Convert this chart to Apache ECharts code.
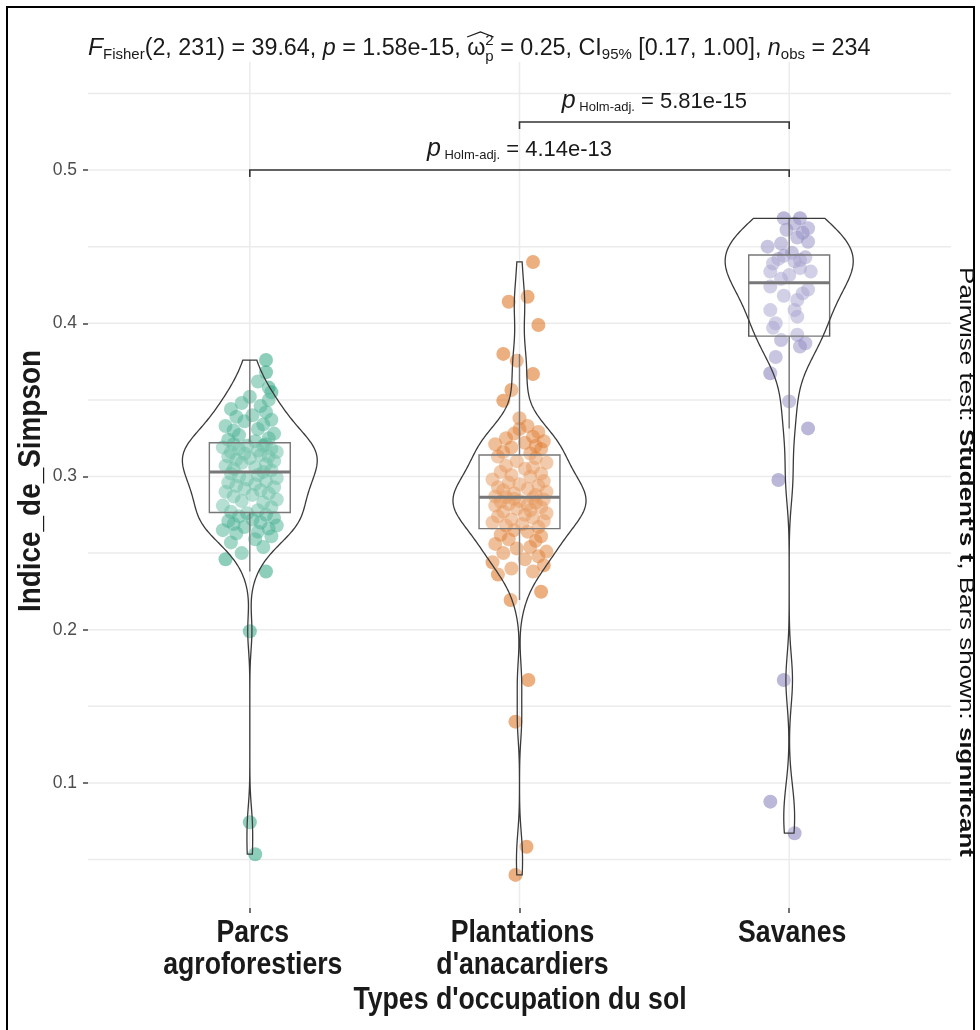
<!DOCTYPE html>
<html><head><meta charset="utf-8">
<script src="https://cdn.jsdelivr.net/npm/echarts@6/dist/echarts.min.js"></script>
<style>html,body{margin:0;padding:0;background:#fff}#c{width:980px;height:1030px}</style>
</head><body><div id="c"></div>
<script>
// ---------------- DATA ----------------
const categories = ['Parcs\nagroforestiers', "Plantations\nd'anacardiers", 'Savanes'];
const xTitle = "Types d'occupation du sol";
const yTitle = 'Indice_de_Simpson';

const parcsValues = [0.0535, 0.0744, 0.199,
  0.238, 0.246, 0.250, 0.254, 0.257, 0.259, 0.261, 0.263, 0.264, 0.265, 0.266, 0.267, 0.268, 0.269, 0.270, 0.271, 0.272, 0.273, 0.274, 0.275, 0.276,
  0.277, 0.278, 0.280, 0.281, 0.283, 0.284, 0.285, 0.287, 0.288, 0.289, 0.290, 0.291, 0.292, 0.293, 0.294, 0.295, 0.296, 0.297, 0.298, 0.299, 0.300, 0.301, 0.302, 0.303,
  0.304, 0.305, 0.306, 0.307, 0.308, 0.309, 0.310, 0.311, 0.312, 0.313, 0.313, 0.314, 0.315, 0.316, 0.316, 0.317, 0.318, 0.318, 0.319, 0.320, 0.320, 0.321, 0.321,
  0.323, 0.324, 0.325, 0.327, 0.328, 0.330, 0.331, 0.333, 0.334, 0.336, 0.337, 0.339, 0.340, 0.342, 0.344, 0.346, 0.348, 0.350, 0.352, 0.355, 0.358, 0.362, 0.368, 0.376];
const parcsJitter = [0.02, 0.00, 0.00,
  0.06, -0.09, -0.03, 0.05, -0.07, 0.02, 0.08, -0.05, 0.03, -0.10, 0.07, -0.02, 0.10, -0.06, 0.04, -0.08, 0.01, 0.09, -0.04, 0.06, -0.01,
  -0.07, 0.03, 0.08, -0.10, 0.05, -0.03, 0.10, -0.06, 0.01, 0.07, -0.09, 0.04, -0.02, 0.09, -0.05, 0.02, -0.08, 0.06, -0.01, 0.10, -0.04, 0.03, -0.07, 0.05,
  0.08, -0.06, 0.02, -0.09, 0.06, -0.03, 0.09, -0.05, 0.00, 0.07, -0.08, 0.04, -0.02, 0.10, -0.07, 0.03, -0.04, 0.08, -0.10, 0.05, -0.01, 0.06, -0.06,
  0.02, -0.08, 0.07, -0.04, 0.09, -0.06, 0.03, -0.09, 0.05, -0.02, 0.08, -0.05, 0.01, 0.06, -0.07, 0.04, -0.03, 0.07, 0.00, 0.08, 0.07, 0.03, 0.06, 0.06];

const plantValues = [0.040, 0.0584, 0.140, 0.1672, 0.2194, 0.2248,
  0.236, 0.238, 0.240, 0.242, 0.244, 0.246, 0.248, 0.250, 0.251, 0.253, 0.254, 0.256, 0.258, 0.259, 0.261, 0.262, 0.264, 0.265,
  0.267, 0.268, 0.269, 0.270, 0.271, 0.272, 0.273, 0.274, 0.275, 0.276, 0.277, 0.278, 0.279, 0.280, 0.281, 0.2815, 0.282, 0.283, 0.2835, 0.284, 0.285, 0.2855, 0.286, 0.2865,
  0.287, 0.288, 0.289, 0.290, 0.291, 0.292, 0.293, 0.294, 0.295, 0.296, 0.297, 0.298, 0.300, 0.301, 0.302, 0.303, 0.305, 0.306, 0.307, 0.309, 0.310, 0.312, 0.313,
  0.315, 0.316, 0.318, 0.319, 0.320, 0.321, 0.322, 0.323, 0.325, 0.326, 0.328, 0.329, 0.331, 0.333,
  0.338, 0.3495, 0.3564, 0.3669, 0.3756, 0.380, 0.3989, 0.414, 0.4173, 0.440];
const plantJitter = [-0.015, 0.026, -0.015, 0.033, -0.033, 0.08,
  -0.08, 0.05, -0.03, 0.09, -0.10, 0.02, 0.07, -0.06, 0.10, -0.01, 0.04, -0.09, 0.06, -0.04, 0.08, -0.07, 0.03, -0.02,
  0.07, -0.05, 0.01, -0.10, 0.09, -0.03, 0.05, -0.08, 0.02, 0.10, -0.06, 0.04, -0.01, 0.08, -0.09, 0.03, -0.04, 0.06, -0.07, 0.00, 0.09, -0.02, 0.05, -0.05,
  -0.09, 0.06, -0.02, 0.10, -0.06, 0.03, -0.08, 0.07, 0.00, -0.04, 0.09, -0.10, 0.04, -0.03, 0.08, -0.07, 0.02, 0.05, -0.05, 0.10, -0.01, 0.06, -0.08,
  0.04, -0.06, 0.08, -0.03, 0.06, -0.09, 0.02, 0.09, -0.05, 0.05, -0.02, 0.07, 0.00, 0.03,
  0.00, -0.06, -0.03, 0.05, -0.01, -0.06, 0.07, -0.04, 0.03, 0.05];

const savValues = [0.0672, 0.0878, 0.1672, 0.2977, 0.3314, 0.349, 0.3674, 0.378, 0.3848, 0.387, 0.389, 0.3925,
  0.397, 0.400, 0.4043, 0.4086, 0.4086, 0.4152, 0.418, 0.4195, 0.422, 0.424, 0.429,
  0.4315, 0.4337, 0.4337, 0.436, 0.439, 0.4405, 0.4413, 0.442, 0.443, 0.444, 0.446,
  0.450, 0.452, 0.4532, 0.456, 0.459, 0.461, 0.462, 0.465, 0.4685, 0.4685];
const savJitter = [0.02, -0.07, -0.02, -0.04, 0.07, 0.00, -0.07, -0.05, 0.04, 0.06, -0.03, 0.03,
  -0.06, -0.05, 0.03, 0.02, -0.07, 0.03, -0.02, 0.05, 0.07, -0.07, -0.03,
  0.00, -0.07, 0.08, 0.04, -0.06, 0.02, 0.04, -0.04, 0.06, -0.02, 0.01,
  -0.08, -0.03, 0.07, 0.03, 0.05, -0.01, 0.07, 0.02, -0.02, 0.04];

const yTickValues = [0.1, 0.2, 0.3, 0.4, 0.5];
const yTickLabels = ['0.1', '0.2', '0.3', '0.4', '0.5'];
const yGridValues = [0.05, 0.1, 0.15, 0.2, 0.25, 0.3, 0.35, 0.4, 0.45, 0.5, 0.55];

const bracketPairs = [[1, 3], [2, 3]];
const bracketLevels = [0.5, 0.5313];
const bracketPValues = ['4.14e-13', '5.81e-15'];

const rightNote = [['Pairwise test: ', false], ["Student's t", true], [', Bars shown: ', false], ['significant', true]];

// ---------------- STYLE ----------------
const groupColors = ['#1B9E77', '#D95F02', '#7570B3'];
const FF = '"Liberation Sans", Arial, sans-serif';
const Y_MIN = 0.0184, Y_MAX = 0.5705;
const VIOLIN_HALF = 0.25, BOX_HALF = 0.15;
const NARROW = 0.86;

// ---------------- HELPERS ----------------
const groups = [
  {values: parcsValues, jitter: parcsJitter},
  {values: plantValues, jitter: plantJitter},
  {values: savValues, jitter: savJitter}
];
function computeStats(vals) {
  const s = vals.slice().sort((a, b) => a - b);
  const n = s.length;
  const q = p => { const h = (n - 1) * p, lo = Math.floor(h), hi = Math.min(lo + 1, n - 1); return s[lo] + (h - lo) * (s[hi] - s[lo]); };
  const q1 = q(0.25), med = q(0.5), q3 = q(0.75), iqr = q3 - q1;
  const lo = s.find(v => v >= q1 - 1.5 * iqr);
  const hi = s.slice().reverse().find(v => v <= q3 + 1.5 * iqr);
  const mean = s.reduce((a, b) => a + b, 0) / n;
  const sd = Math.sqrt(s.reduce((a, b) => a + (b - mean) * (b - mean), 0) / (n - 1));
  const bw = 0.9 * Math.min(sd, iqr / 1.34) * Math.pow(n, -0.2);
  const dens = [];
  const N = 512;
  for (let k = 0; k < N; k++) {
    const y = s[0] + (s[n - 1] - s[0]) * k / (N - 1);
    let d = 0;
    for (const v of s) { const z = (y - v) / bw; d += Math.exp(-0.5 * z * z); }
    dens.push([y, d / (n * bw * Math.sqrt(2 * Math.PI))]);
  }
  return {q1, med, q3, lo, hi, dens};
}
const groupStats = groups.map(g => computeStats(g.values));
const maxDens = Math.max(...groupStats.map(st => Math.max(...st.dens.map(d => d[1]))));

const mctx = document.createElement('canvas').getContext('2d');
function pfont(p) { return (p.it ? 'italic ' : '') + (p.b ? 'bold ' : '') + p.size + 'px ' + FF; }
function tw(p) { mctx.font = pfont(p); return mctx.measureText(p.t).width; }
function layoutPieces(pieces, x0, baseline, color) {
  let x = x0, lastX = x0, lastW = 0;
  const els = [], pos = [];
  pieces.forEach(p => {
    const w = tw(p);
    let px;
    if (p.sameX) { px = lastX; x = lastX + Math.max(lastW, w); }
    else { px = x; lastX = x; lastW = w; x += w; }
    pos.push([px, px + w]);
    els.push({type: 'text', x: px, y: baseline + (p.dy || 0) - 0.33 * p.size, silent: true,
      style: {text: p.t, fontSize: p.size, fontFamily: FF, fontStyle: p.it ? 'italic' : 'normal',
        fontWeight: p.b ? 'bold' : 'normal', fill: color, align: 'left', verticalAlign: 'middle'}});
  });
  return {els, width: x - x0, pos};
}

// ---------------- TITLE ----------------
const titlePieces = [
  {t: 'F', size: 24.5, it: true},
  {t: 'Fisher', size: 15, dy: 4},
  {t: '(2, 231) = 39.64, ', size: 23.3},
  {t: 'p', size: 23.3, it: true},
  {t: ' = 1.58e-15, ', size: 23.3},
  {t: 'ω', size: 23.3},
  {t: '2', size: 15, dy: -10},
  {t: 'p', size: 15, dy: 6, sameX: true},
  {t: ' = 0.25, CI', size: 23.3},
  {t: '95%', size: 15, dy: 4},
  {t: ' [0.17, 1.00], ', size: 23.3},
  {t: 'n', size: 23.3, it: true},
  {t: 'obs', size: 15, dy: 4},
  {t: ' = 234', size: 23.3}
];
const titleLayout = layoutPieces(titlePieces, 88, 56, '#1a1a1a');
const hatL = titleLayout.pos[5][0], hatR = titleLayout.pos[7][1];
const titleHat = {type: 'polyline', silent: true,
  shape: {points: [[hatL, 37], [(hatL + hatR) / 2, 32], [hatR, 37]]},
  style: {stroke: '#1a1a1a', lineWidth: 1.2, fill: null}};

// ---------------- SERIES ----------------
const gridSeries = {
  type: 'custom', silent: true, z: 1,
  data: yGridValues.map(v => [0.4, v, 0]).concat([1, 2, 3].map(g => [g, Y_MIN, 1])),
  renderItem(params, api) {
    let a, b;
    if (api.value(2) === 0) { a = api.coord([0.4, api.value(1)]); b = api.coord([3.6, api.value(1)]); }
    else { a = api.coord([api.value(0), Y_MIN]); b = api.coord([api.value(0), Y_MAX]); }
    return {type: 'line', shape: {x1: a[0], y1: a[1], x2: b[0], y2: b[1]}, style: {stroke: '#ebebeb', lineWidth: 1.5}};
  }
};

const xLabelSeries = {
  type: 'custom', silent: true, z: 6,
  data: categories.map((c, i) => [i + 1, Y_MIN]),
  renderItem(params, api) {
    const p = api.coord([api.value(0), Y_MIN]);
    return {type: 'text', x: p[0] + 3, y: p[1] + 9, scaleX: NARROW,
      style: {text: categories[params.dataIndex], fontFamily: FF, fontWeight: 'bold', fontSize: 31, lineHeight: 32,
        fill: '#1a1a1a', align: 'center', verticalAlign: 'top'}};
  }
};

const scatterSeries = groups.map((g, i) => ({
  type: 'scatter', silent: true, z: 2,
  data: g.values.map((v, k) => [i + 1 + g.jitter[k], v]),
  symbolSize: 14,
  itemStyle: {color: groupColors[i], opacity: 0.5}
}));

const boxSeries = {
  type: 'custom', silent: true, z: 3,
  data: [[1], [2], [3]],
  renderItem(params, api) {
    const g = api.value(0), st = groupStats[g - 1];
    const c = (x, y) => api.coord([x, y]);
    const tl = c(g - BOX_HALF, st.q3), br = c(g + BOX_HALF, st.q1);
    const m1 = c(g - BOX_HALF, st.med), m2 = c(g + BOX_HALF, st.med);
    const wt = c(g, st.hi), wq3 = c(g, st.q3), wb = c(g, st.lo), wq1 = c(g, st.q1);
    const ls = {stroke: '#555', lineWidth: 1.4};
    return {type: 'group', children: [
      {type: 'line', shape: {x1: wt[0], y1: wt[1], x2: wq3[0], y2: wq3[1]}, style: ls},
      {type: 'line', shape: {x1: wb[0], y1: wb[1], x2: wq1[0], y2: wq1[1]}, style: ls},
      {type: 'rect', shape: {x: tl[0], y: tl[1], width: br[0] - tl[0], height: br[1] - tl[1]}, style: {fill: 'rgba(255,255,255,0.2)', stroke: '#555', lineWidth: 1.4}},
      {type: 'line', shape: {x1: m1[0], y1: m1[1], x2: m2[0], y2: m2[1]}, style: {stroke: '#555', lineWidth: 3}}
    ]};
  }
};

const violinSeries = {
  type: 'custom', silent: true, z: 4,
  data: [[1], [2], [3]],
  renderItem(params, api) {
    const g = api.value(0), st = groupStats[g - 1];
    const right = st.dens.map(([y, d]) => api.coord([g + VIOLIN_HALF * d / maxDens, y]));
    const left = st.dens.slice().reverse().map(([y, d]) => api.coord([g - VIOLIN_HALF * d / maxDens, y]));
    return {type: 'polygon', shape: {points: right.concat(left)},
      style: {fill: 'rgba(255,255,255,0.2)', stroke: '#3a3a3a', lineWidth: 1.3}};
  }
};

const bracketSeries = {
  type: 'custom', silent: true, z: 5,
  data: bracketPairs.map((p, i) => [p[0], p[1], bracketLevels[i], i]),
  renderItem(params, api) {
    const a = api.coord([api.value(0), api.value(2)]), b = api.coord([api.value(1), api.value(2)]);
    const i = api.value(3);
    const pieces = [
      {t: 'p', size: 25, it: true},
      {t: ' Holm-adj.', size: 13, dy: 3},
      {t: ' = ' + bracketPValues[i], size: 22}
    ];
    const pre = layoutPieces(pieces, 0, 0, '#1a1a1a');
    const x0 = (a[0] + b[0]) / 2 - pre.width / 2;
    const lay = layoutPieces(pieces, x0, a[1] - 13, '#1a1a1a');
    return {type: 'group', children: [
      {type: 'polyline', shape: {points: [[a[0], a[1] + 7], [a[0], a[1]], [b[0], b[1]], [b[0], b[1] + 7]]},
        style: {stroke: '#333', lineWidth: 1.6, fill: null}}
    ].concat(lay.els)};
  }
};

// ---------------- CHART ----------------
const chart = echarts.init(document.getElementById('c'), null, {renderer: 'canvas'});
const richNote = {};
const noteText = rightNote.map((r, k) => { richNote['s' + k] = {fontSize: 26, fontFamily: FF, fontWeight: r[1] ? 'bold' : 'normal', fill: '#111'}; return '{s' + k + '|' + r[0] + '}'; }).join('');

chart.setOption({
  animation: false,
  backgroundColor: '#fff',
  grid: {left: 88, right: 29, top: 62, bottom: 122},
  xAxis: {
    type: 'value', min: 0.4, max: 3.6,
    axisLine: {show: false}, splitLine: {show: false},
    axisTick: {show: true, customValues: [1, 2, 3], length: 5, lineStyle: {color: '#444', width: 1.5}},
    axisLabel: {show: false}
  },
  yAxis: {
    type: 'value', min: Y_MIN, max: Y_MAX,
    axisLine: {show: false}, splitLine: {show: false},
    axisTick: {show: true, customValues: yTickValues, length: 5, lineStyle: {color: '#444', width: 1.5}},
    axisLabel: {customValues: yTickValues, formatter: v => yTickLabels[yTickValues.findIndex(t => Math.abs(t - v) < 1e-9)] || '',
      margin: 11, fontFamily: FF, fontSize: 17.5, color: '#4d4d4d'}
  },
  series: [gridSeries].concat(scatterSeries, [boxSeries, violinSeries, bracketSeries, xLabelSeries]),
  graphic: [
    {type: 'rect', silent: true, shape: {x: 7, y: 7, width: 967, height: 1040}, style: {fill: null, stroke: '#000', lineWidth: 2}},
    titleHat,
    {type: 'text', silent: true, x: 966, y: 562, rotation: -Math.PI / 2, scaleY: 0.8,
      style: {text: noteText, rich: richNote, align: 'center', verticalAlign: 'middle'}},
    {type: 'text', silent: true, x: 520, y: 1000, scaleX: NARROW,
      style: {text: xTitle, fontFamily: FF, fontWeight: 'bold', fontSize: 31, fill: '#1a1a1a', align: 'center', verticalAlign: 'middle'}},
    {type: 'text', silent: true, x: 31, y: 481, rotation: Math.PI / 2, scaleX: 0.9,
      style: {text: yTitle, fontFamily: FF, fontWeight: 'bold', fontSize: 31, fill: '#1a1a1a', align: 'center', verticalAlign: 'middle'}}
  ].concat(titleLayout.els)
});
</script>
</body></html>
